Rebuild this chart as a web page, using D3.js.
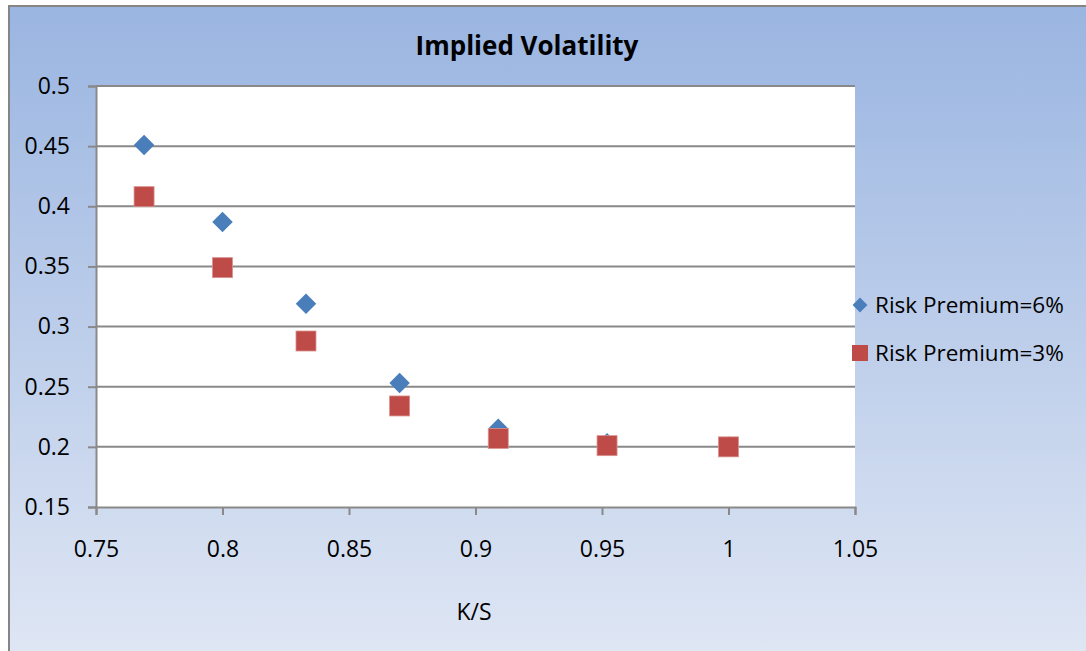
<!DOCTYPE html>
<html>
<head>
<meta charset="UTF-8">
<script src="https://cdn.jsdelivr.net/npm/d3@7"></script>
<style>
	body { margin: 0; background: #fff; }
	text { font-family: "Open Sans", "Liberation Sans", sans-serif; fill: #000; }
</style>
</head>
<body>
<script>
	// K/S values and implied vols
	const ks = [0.769, 0.8, 0.833, 0.870, 0.909, 0.952, 1.0];
	const rp6 = [0.451, 0.387, 0.319, 0.253, 0.215, 0.203, 0.200];
	const rp3 = [0.408, 0.349, 0.288, 0.234, 0.207, 0.201, 0.200];
	const xTicks = [0.75, 0.8, 0.85, 0.9, 0.95, 1, 1.05];
	const yTicks = [0.15, 0.2, 0.25, 0.3, 0.35, 0.4, 0.45, 0.5];
	const seriesNames = ['Risk Premium=6%', 'Risk Premium=3%'];

	const W = 1086, H = 651;
	const plot = {left: 96, right: 855, top: 86, bottom: 507};

	const svg = d3.select('body').append('svg')
		.attr('width', W).attr('height', H);

	const grad = svg.append('defs').append('linearGradient')
		.attr('id', 'bg').attr('x1', 0).attr('y1', 0).attr('x2', 0).attr('y2', 1);
	grad.append('stop').attr('offset', '0%').attr('stop-color', '#9ab5e1');
	grad.append('stop').attr('offset', '100%').attr('stop-color', '#e0e7f4');

	// chart area with frame
	svg.append('rect')
		.attr('x', 9).attr('y', 6).attr('width', W + 10).attr('height', H + 10)
		.attr('fill', 'url(#bg)')
		.attr('stroke', '#858585').attr('stroke-width', 2);

	svg.append('rect')
		.attr('x', plot.left).attr('y', plot.top)
		.attr('width', plot.right - plot.left).attr('height', plot.bottom - plot.top)
		.attr('fill', '#fff');

	const x = d3.scaleLinear().domain([0.75, 1.05]).range([plot.left, plot.right]);
	const y = d3.scaleLinear().domain([0.15, 0.5]).range([plot.bottom, plot.top]);

	// horizontal gridlines
	svg.append('g').selectAll('line').data(yTicks.filter(t => t > 0.15)).enter()
		.append('line')
		.attr('x1', plot.left).attr('x2', plot.right)
		.attr('y1', d => y(d)).attr('y2', d => y(d))
		.attr('stroke', '#898989').attr('stroke-width', 2);

	const yAxis = svg.append('g')
		.attr('transform', `translate(${plot.left},0)`)
		.call(d3.axisLeft(y).tickValues(yTicks).tickFormat(d3.format('')).tickSize(8).tickPadding(18));
	const xAxis = svg.append('g')
		.attr('transform', `translate(0,${plot.bottom})`)
		.call(d3.axisBottom(x).tickValues(xTicks).tickFormat(d3.format('')).tickSize(8).tickPadding(26));

	[yAxis, xAxis].forEach(a => {
		a.select('.domain').attr('stroke', '#898989').attr('stroke-width', 2);
		a.selectAll('.tick line').attr('stroke', '#898989').attr('stroke-width', 2);
		a.selectAll('.tick text').style('font-size', '23px').attr('fill', '#000');
	});

	const diamond = d3.symbol().type(d3.symbolSquare).size(210);

	// series 6% (diamonds)
	svg.append('g').selectAll('path').data(ks).enter()
		.append('path')
		.attr('d', diamond)
		.attr('transform', (d, i) => `translate(${x(d)},${y(rp6[i])}) rotate(45)`)
		.attr('fill', '#4a7ebb');

	// series 3% (squares)
	svg.append('g').selectAll('rect').data(ks).enter()
		.append('rect')
		.attr('x', d => x(d) - 10).attr('y', (d, i) => y(rp3[i]) - 10)
		.attr('width', 20).attr('height', 20)
		.attr('fill', '#be4b48').attr('stroke', '#d9928f').attr('stroke-width', 0.8);

	svg.append('text')
		.attr('x', 527).attr('y', 55)
		.attr('text-anchor', 'middle')
		.style('font-size', '26px').style('font-weight', 'bold')
		.text('Implied Volatility');

	svg.append('text')
		.attr('x', 474).attr('y', 620)
		.attr('text-anchor', 'middle')
		.style('font-size', '23px')
		.text('K/S');

	// legend
	const leg = svg.append('g');
	leg.append('path')
		.attr('d', d3.symbol().type(d3.symbolSquare).size(110))
		.attr('transform', 'translate(860,305) rotate(45)')
		.attr('fill', '#4a7ebb');
	leg.append('rect')
		.attr('x', 852).attr('y', 345).attr('width', 16).attr('height', 16)
		.attr('fill', '#be4b48');
	leg.selectAll('text').data(seriesNames).enter()
		.append('text')
		.attr('x', 875).attr('y', (d, i) => 313 + i * 48)
		.style('font-size', '22.5px')
		.text(d => d);
</script>
</body>
</html>
